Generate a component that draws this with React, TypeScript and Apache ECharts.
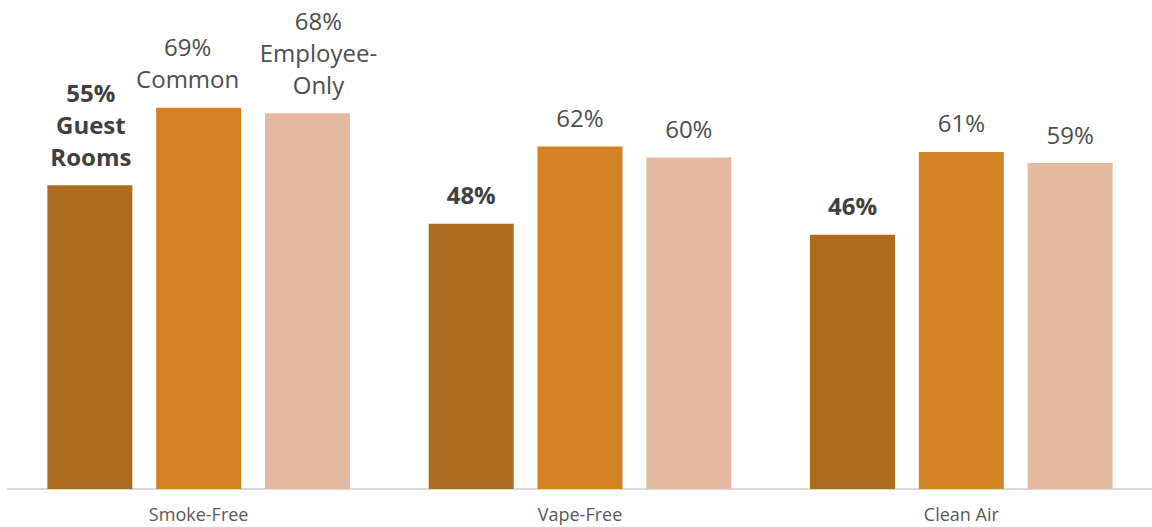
import React, { useEffect, useRef } from "react";
import * as echarts from "echarts";

const categories = ["Smoke-Free", "Vape-Free", "Clean Air"];
const seriesNames = ["Guest Rooms", "Common", "Employee-Only"];
const seriesLabelNames = ["Guest\nRooms", "Common", "Employee-\nOnly"];
const guestRooms = [55, 48, 46];
const common = [69, 62, 61];
const employeeOnly = [68, 60, 59];
const seriesValues = [guestRooms, common, employeeOnly];
const colors = ["#AE6A1E", "#D38326", "#E4B9A0"];

// horizontal nudge of the first-category labels (as in the reference)
const firstLabelShift = [1, -11, 11];

export default function App() {
  const ref = useRef<HTMLDivElement>(null);
  useEffect(() => {
    if (!ref.current) return;
    const chart = echarts.init(ref.current, null, { renderer: "svg" });
    chart.setOption({
      animation: false,
      textStyle: { fontFamily: "Open Sans" },
      grid: { left: 8, right: 0, top: 47, bottom: 38, containLabel: false },
      xAxis: {
        type: "category",
        data: categories,
        axisLine: { show: true, lineStyle: { color: "#D9D9D9", width: 2 } },
        axisTick: { show: false },
        axisLabel: { color: "#595959", fontSize: 18, margin: 16, fontFamily: "Open Sans" },
      },
      yAxis: {
        type: "value",
        min: 0,
        max: 80,
        show: false,
        splitLine: { show: false },
      },
      series: seriesValues.map((vals, si) => ({
        name: seriesNames[si],
        type: "bar",
        data: vals.map((v, i) =>
          i === 0 ? { value: v, label: { offset: [firstLabelShift[si], 0] } } : v
        ),
        barWidth: 85,
        barGap: "28%",
        itemStyle: { color: colors[si] },
        label: {
          show: true,
          position: "top",
          distance: 13,
          fontFamily: "Open Sans",
          fontSize: 24,
          lineHeight: 32,
          fontWeight: si === 0 ? "bold" : "normal",
          color: si === 0 ? "#404040" : "#4D4D4D",
          formatter: (p: any) =>
            p.dataIndex === 0 ? `${p.value}%\n${seriesLabelNames[si]}` : `${p.value}%`,
        },
      })),
    });
    return () => chart.dispose();
  }, []);
  return (
    <div
      ref={ref}
      style={{ position: "fixed", left: 0, top: 0, width: 1152, height: 527, background: "#fff" }}
    />
  );
}
